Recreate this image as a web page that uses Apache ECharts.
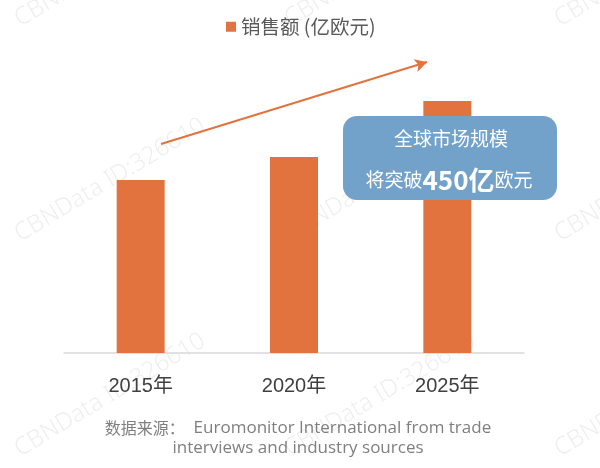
<!DOCTYPE html>
<html>
<head>
<meta charset="utf-8">
<title>销售额 (亿欧元)</title>
<script src="https://cdn.jsdelivr.net/npm/echarts@6/dist/echarts.min.js"></script>
<style>
    html, body { margin: 0; padding: 0; background: #fff; }
    #chart { width: 600px; height: 468px; }
</style>
</head>
<body>
<div id="chart"></div>
<script>
// 年份 / 销售额(亿欧元), 数值按图上柱高估算
var years = ['2015年', '2020年', '2025年'];
var sales = [309, 350, 450];
var seriesName = '销售额 (亿欧元)';

var orange = '#e2733f';
var boxBlue = '#72a1ca';
var cjk = 'Noto Sans CJK SC';

// 水印
var markText = 'CBNData ID:326610';
var markPos = [[110, -35], [380, -35], [650, -35], [110, 180], [380, 180], [650, 180], [110, 395], [380, 395], [650, 395]];

var graphics = [];
markPos.forEach(function (p) {
    graphics.push({
        type: 'text',
        x: p[0],
        y: p[1],
        rotation: 31 * Math.PI / 180,
        silent: true,
        z: 0,
        style: {
            text: markText,
            fill: 'rgba(0,0,0,0.07)',
            font: '300 24px "Noto Sans"',
            textAlign: 'center',
            textVerticalAlign: 'middle'
        }
    });
});

// 蓝色说明框
graphics.push({
    type: 'rect',
    z: 10,
    shape: { x: 343, y: 116, width: 214, height: 84, r: 14 },
    style: { fill: boxBlue }
});
graphics.push({
    type: 'text',
    z: 11,
    x: 451,
    y: 139,
    style: {
        text: '全球市场规模',
        fill: '#fff',
        font: '19px "' + cjk + '"',
        textAlign: 'center',
        textVerticalAlign: 'middle'
    }
});
graphics.push({
    type: 'text',
    z: 11,
    x: 449,
    y: 180,
    style: {
        text: '{a|将突破}{b|450亿}{a|欧元}',
        textAlign: 'center',
        textVerticalAlign: 'middle',
        rich: {
            a: { fill: '#fff', fontSize: 19, fontFamily: cjk },
            b: { fill: '#fff', fontSize: 26, fontWeight: 'bold', fontFamily: cjk }
        }
    }
});

// 数据来源
graphics.push({
    type: 'text',
    x: 298,
    y: 438,
    style: {
        text: '{c|数据来源：}{e|  Euromonitor International from trade}\n{e|interviews and industry sources}',
        textAlign: 'center',
        textVerticalAlign: 'middle',
        rich: {
            c: { fill: '#7f7f7f', fontSize: 16, fontFamily: cjk, lineHeight: 20 },
            e: { fill: '#7f7f7f', fontSize: 17, fontFamily: 'Open Sans', lineHeight: 20 }
        }
    }
});

var myChart = echarts.init(document.getElementById('chart'));
myChart.setOption({
    animation: false,
    legend: {
        data: [seriesName],
        left: 221,
        top: 12,
        icon: 'rect',
        itemWidth: 10,
        itemHeight: 10,
        itemGap: 5,
        textStyle: {
            color: '#595959',
            fontSize: 19.5,
            fontFamily: cjk
        }
    },
    grid: {
        left: 64,
        right: 76,
        top: 73,
        bottom: 115
    },
    xAxis: {
        type: 'category',
        data: years,
        axisLine: { lineStyle: { color: '#d9d9d9', width: 1.5 } },
        axisTick: { show: false },
        axisLabel: {
            color: '#404040',
            fontSize: 20,
            margin: 23,
            fontFamily: '"Liberation Sans", "' + cjk + '"'
        }
    },
    yAxis: {
        type: 'value',
        min: 0,
        max: 500,
        show: false,
        splitLine: { show: false }
    },
    series: [
        {
            name: seriesName,
            type: 'bar',
            barWidth: 48,
            itemStyle: { color: orange },
            data: sales,
            markLine: {
                silent: true,
                symbol: ['none', 'arrow'],
                symbolSize: [10, 12],
                label: { show: false },
                lineStyle: { color: orange, width: 2, type: 'solid' },
                data: [
                    [{ x: 161, y: 144 }, { x: 427, y: 62 }]
                ]
            }
        }
    ],
    graphic: graphics
});
</script>
</body>
</html>
